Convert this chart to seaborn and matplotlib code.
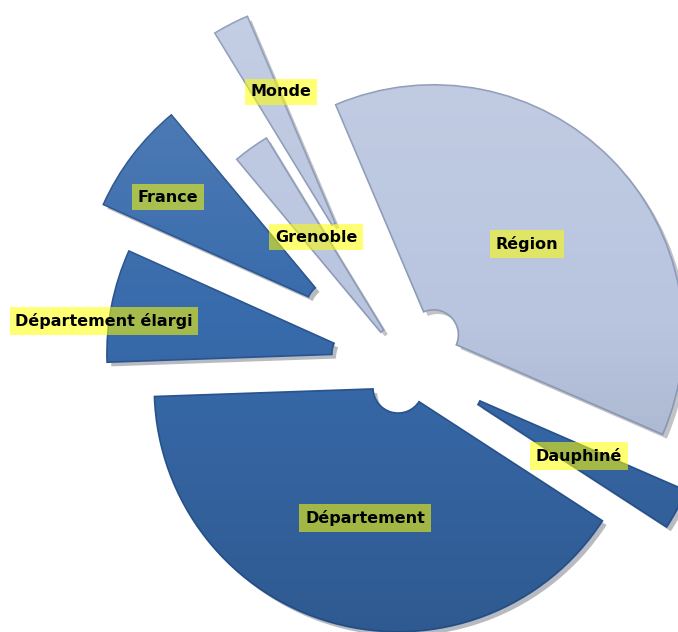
import matplotlib
matplotlib.use("Agg")
import matplotlib.pyplot as plt
import matplotlib.patheffects as pe
import numpy as np
import seaborn as sns

# slices, counter-clockwise starting from Région
labels = ["Région", "Monde", "Grenoble", "France", "Département élargi",
          "Département", "Dauphiné"]
shares = [37.92, 2.33, 2.33, 7.22, 7.28, 40.28, 2.64]
explode = [0.16, 0.524, 0.057, 0.37, 0.196, 0.104, 0.236]  # fraction of radius
size = [1.0, 1, 1, 1, 1, 0.975, 1]  # slight per-slice radius tweak

light = "#b9c5df"
dark = "#386bac"
colors = [light, light, light, dark, dark, dark, dark]
edges = ["#8d9bb9", "#8d9bb9", "#8d9bb9", "#2a5590", "#2a5590", "#2a5590", "#2a5590"]

# where the label boxes sit (pixels from top-left)
label_pos = {
    "Région": (527, 244),
    "Monde": (281, 92),
    "Grenoble": (316, 237),
    "France": (168, 197),
    "Département élargi": (104, 321),
    "Département": (365, 518),
    "Dauphiné": (579, 456),
}

sns.set_theme(style="white")
plt.rcParams["font.family"] = ["DejaVu Sans"]

W, H = 678, 632
R = 250
HOLE = 25
fig = plt.figure(figsize=(W / 100, H / 100), dpi=100)
ax = fig.add_axes([0, 0, 1, 1])

wedges, _ = ax.pie(shares, explode=[e * R for e in explode], colors=colors,
                   startangle=-23.5, center=(405, H - 363), radius=R,
                   frame=False, wedgeprops=dict(width=R - HOLE, linewidth=1.2))

# soft vertical shading: lighter on top, darker at the bottom
n = 256
t = np.linspace(0, 1, n)[:, None]
shade = np.zeros((n, 1, 4))
shade[:, 0, :3] = np.where(t < 0.5, 1.0, 0.0)
shade[:, 0, 3] = np.abs(t[:, 0] - 0.5) * 0.32

for w, ec, s in zip(wedges, edges, size):
    w.set_radius(R * s)
    w.set_width(R * s - HOLE)
    w.set_edgecolor(ec)
    w.set_path_effects([pe.SimplePatchShadow(offset=(3, -3), alpha=0.3),
                        pe.Normal()])
    im = ax.imshow(shade, extent=(0, W, 0, H), aspect="auto",
                   interpolation="bilinear", zorder=w.get_zorder() + 0.1)
    im.set_clip_path(w)

for name, (x, y) in label_pos.items():
    ax.text(x, H - y, name, ha="center", va="center", fontsize=11.5,
            fontweight="bold", color="black", zorder=5,
            bbox=dict(boxstyle="square,pad=0.35", facecolor=(1, 1, 0, 0.55),
                      edgecolor="none"))

ax.set_xlim(0, W)
ax.set_ylim(0, H)
ax.set_aspect("equal")
ax.axis("off")
fig.savefig("out.png", dpi=100)
